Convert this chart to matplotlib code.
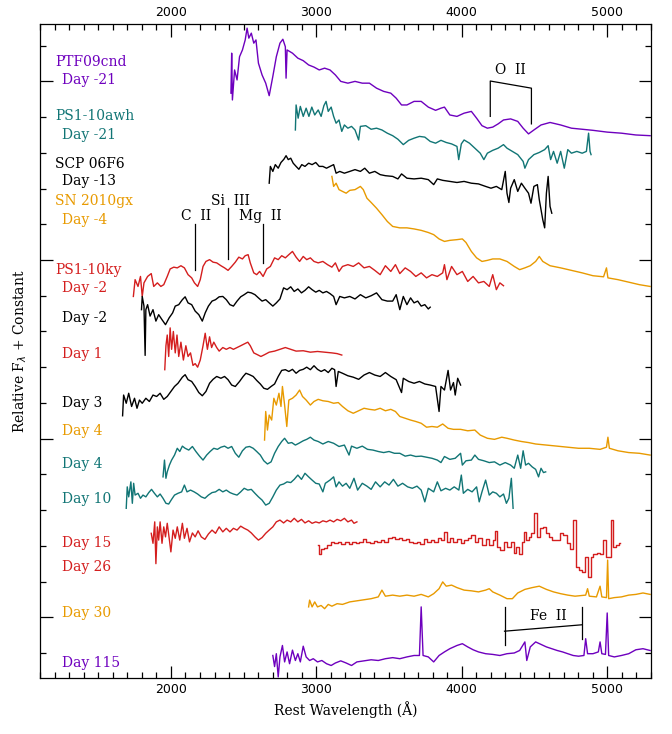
import numpy as np
import matplotlib
matplotlib.use('Agg')
import matplotlib.pyplot as plt
from matplotlib.ticker import MultipleLocator

# colores
purple = '#6E00BE'
teal = '#117575'
orange = '#E89A00'
red = '#D41E1E'
black = 'black'

# PTF09cnd Day -21
ptf_w = [2413, 2418, 2423, 2438, 2455, 2472, 2492, 2511, 2524, 2536, 2553, 2570, 2585, 2602, 2627, 2652, 2676,
         2701, 2725, 2750, 2770, 2787, 2792, 2799, 2836, 2873, 2910, 2947, 2984, 3020, 3057, 3094, 3131, 3168,
         3217, 3266, 3316, 3365, 3414, 3463, 3512, 3549, 3586, 3623, 3672, 3721, 3770, 3820, 3857, 3881, 3918,
         3967, 4016, 4066, 4102, 4139, 4176, 4213, 4250, 4287, 4336, 4385, 4422, 4459, 4496, 4545, 4607, 4680,
         4754, 4828, 4902, 5000, 5098, 5197, 5295]
ptf_f = [14.67, 15.79, 14.48, 15.32, 15.04, 15.69, 15.88, 16.16, 16.49, 16.21, 16.35, 16.07, 16.16, 15.51, 15.18,
         14.95, 14.60, 15.14, 15.69, 16.07, 16.18, 15.97, 15.09, 15.88, 15.79, 15.65, 15.58, 15.46, 15.40, 15.32,
         15.37, 15.32, 15.18, 15.00, 14.95, 15.00, 14.95, 14.95, 14.81, 14.72, 14.67, 14.53, 14.34, 14.34, 14.44,
         14.44, 14.28, 14.19, 14.25, 14.28, 14.06, 14.02, 14.11, 14.16, 13.97, 13.76, 13.69, 13.72, 13.81, 13.92,
         13.95, 13.88, 13.69, 13.53, 13.64, 13.78, 13.85, 13.78, 13.69, 13.66, 13.63, 13.58, 13.55, 13.50, 13.48]

# PS1-10awh Day -21
awh_w = [2856, 2861, 2875, 2890, 2910, 2930, 2949, 2969, 2989, 3013, 3033, 3052, 3067, 3082, 3102, 3119, 3136,
         3156, 3175, 3193, 3217, 3242, 3266, 3291, 3303, 3340, 3377, 3414, 3451, 3488, 3525, 3561, 3598, 3635,
         3672, 3709, 3746, 3783, 3820, 3857, 3893, 3930, 3967, 3979, 3997, 4016, 4053, 4090, 4127, 4152, 4176,
         4213, 4250, 4287, 4311, 4348, 4385, 4422, 4434, 4459, 4496, 4533, 4570, 4594, 4611, 4631, 4656, 4680,
         4705, 4729, 4754, 4791, 4828, 4857, 4872, 4882, 4889]
awh_f = [13.64, 14.34, 13.97, 14.30, 14.02, 14.25, 14.02, 14.28, 14.06, 14.20, 14.02, 14.32, 14.44, 14.16, 14.28,
         14.02, 13.83, 13.92, 13.60, 13.78, 13.69, 13.74, 13.64, 13.36, 13.74, 13.76, 13.66, 13.69, 13.64, 13.55,
         13.48, 13.38, 13.23, 13.35, 13.41, 13.46, 13.44, 13.32, 13.27, 13.35, 13.29, 13.25, 13.18, 12.81, 13.25,
         13.36, 13.27, 13.13, 12.99, 12.81, 12.99, 13.07, 13.13, 13.23, 13.13, 13.04, 12.95, 12.76, 12.57, 12.81,
         12.95, 13.01, 13.09, 13.20, 12.81, 13.04, 12.71, 13.04, 12.57, 13.09, 12.99, 13.04, 12.99, 13.04, 13.55,
         13.04, 12.95]

# SCP 06F6 Day -13
scp_w = [2676, 2684, 2701, 2718, 2738, 2757, 2777, 2792, 2807, 2824, 2841, 2861, 2880, 2900, 2922, 2947, 2971,
         2996, 3020, 3045, 3070, 3094, 3119, 3136, 3161, 3193, 3230, 3266, 3303, 3333, 3365, 3402, 3439, 3475,
         3525, 3561, 3586, 3623, 3672, 3721, 3770, 3807, 3832, 3869, 3918, 3967, 4016, 4066, 4115, 4164, 4201,
         4238, 4275, 4299, 4311, 4324, 4336, 4361, 4385, 4410, 4434, 4459, 4476, 4496, 4520, 4533, 4557, 4570,
         4582, 4594, 4607, 4619]
scp_f = [12.15, 12.62, 12.48, 12.67, 12.57, 12.73, 12.82, 12.92, 12.81, 12.85, 12.71, 12.62, 12.54, 12.67, 12.62,
         12.71, 12.67, 12.73, 12.62, 12.62, 12.57, 12.62, 12.67, 12.43, 12.48, 12.43, 12.48, 12.53, 12.48, 12.57,
         12.43, 12.48, 12.39, 12.36, 12.34, 12.27, 12.41, 12.29, 12.27, 12.29, 12.25, 12.11, 12.27, 12.23, 12.20,
         12.17, 12.20, 12.15, 12.13, 12.06, 12.01, 12.06, 11.97, 12.48, 11.87, 11.61, 12.01, 12.25, 11.92, 12.15,
         12.01, 11.87, 11.59, 12.06, 12.11, 11.69, 11.13, 10.90, 11.87, 12.34, 11.50, 11.31]

# SN 2010gx Day -4
gx_w = [3107, 3119, 3136, 3156, 3180, 3205, 3230, 3266, 3303, 3323, 3348, 3377, 3414, 3451, 3488, 3525, 3574,
        3623, 3672, 3721, 3770, 3807, 3844, 3881, 3918, 3967, 4004, 4029, 4066, 4102, 4139, 4176, 4213, 4262,
        4311, 4361, 4398, 4434, 4471, 4508, 4533, 4557, 4607, 4680, 4754, 4828, 4902, 4975, 4995, 5005, 5074,
        5148, 5221, 5295]
gx_f = [12.34, 12.06, 12.15, 11.97, 11.92, 11.87, 11.95, 11.97, 12.06, 11.97, 11.73, 11.61, 11.45, 11.27, 11.08,
        10.94, 10.90, 10.90, 10.87, 10.83, 10.77, 10.71, 10.59, 10.52, 10.55, 10.57, 10.59, 10.49, 10.24, 10.06,
        9.96, 9.99, 10.03, 10.03, 9.96, 9.82, 9.73, 9.78, 9.84, 9.96, 10.10, 9.96, 9.84, 9.78, 9.71, 9.64, 9.56,
        9.53, 9.78, 9.50, 9.45, 9.38, 9.31, 9.26]

# PS1-10ky Day -2
ky_w = [1742, 1754, 1774, 1791, 1803, 1815, 1840, 1865, 1882, 1907, 1931, 1951, 1975, 1995, 2020, 2044, 2069,
        2093, 2118, 2143, 2162, 2184, 2202, 2221, 2241, 2266, 2290, 2315, 2344, 2369, 2393, 2418, 2443, 2467,
        2492, 2511, 2531, 2546, 2570, 2590, 2610, 2634, 2659, 2684, 2713, 2738, 2762, 2787, 2811, 2836, 2861,
        2885, 2910, 2934, 2959, 2984, 3013, 3045, 3077, 3107, 3131, 3156, 3180, 3217, 3254, 3291, 3328, 3365,
        3402, 3439, 3475, 3512, 3544, 3574, 3611, 3648, 3684, 3721, 3758, 3795, 3832, 3869, 3881, 3898, 3930,
        3967, 4004, 4041, 4078, 4115, 4152, 4189, 4213, 4238, 4262, 4287]
ky_f = [8.98, 9.45, 9.26, 9.54, 8.98, 9.36, 9.54, 9.62, 9.26, 9.36, 9.26, 9.31, 9.54, 9.75, 9.80, 9.78, 9.84,
        9.78, 9.59, 9.50, 9.36, 9.26, 9.45, 9.82, 9.96, 10.01, 9.94, 9.92, 9.84, 9.78, 9.71, 9.82, 9.94, 10.08,
        10.03, 10.12, 10.15, 9.92, 9.64, 9.59, 9.68, 9.54, 9.75, 9.82, 10.06, 10.01, 10.12, 10.06, 10.15, 10.24,
        10.08, 9.96, 10.10, 10.01, 10.06, 9.96, 9.92, 9.96, 9.87, 9.80, 9.92, 9.68, 9.82, 9.87, 9.82, 9.92, 9.78,
        9.82, 9.71, 9.59, 9.84, 9.68, 9.87, 9.62, 9.78, 9.68, 9.54, 9.64, 9.50, 9.59, 9.54, 9.64, 9.87, 9.45,
        9.82, 9.59, 9.68, 9.40, 9.54, 9.36, 9.40, 9.26, 9.59, 9.17, 9.36, 9.28]

# Day -2 (negro)
dm2_w = [1798, 1803, 1815, 1823, 1828, 1840, 1857, 1877, 1897, 1916, 1939, 1963, 1988, 2012, 2030, 2054, 2079,
         2098, 2118, 2143, 2167, 2192, 2216, 2236, 2258, 2283, 2307, 2332, 2357, 2381, 2406, 2430, 2455, 2480,
         2504, 2529, 2553, 2578, 2602, 2627, 2652, 2676, 2701, 2725, 2750, 2775, 2799, 2824, 2848, 2873, 2898,
         2922, 2947, 2971, 2996, 3020, 3045, 3070, 3094, 3119, 3136, 3161, 3193, 3230, 3266, 3303, 3340, 3377,
         3414, 3451, 3488, 3525, 3549, 3574, 3598, 3623, 3648, 3672, 3697, 3721, 3746, 3770, 3783]
dm2_f = [8.61, 8.98, 8.71, 7.33, 8.61, 8.75, 8.43, 8.61, 8.29, 8.47, 8.33, 8.19, 8.38, 8.52, 8.71, 8.75, 8.89,
         8.97, 8.80, 8.75, 8.57, 8.47, 8.29, 8.52, 8.71, 8.85, 8.89, 8.97, 8.98, 8.89, 8.75, 8.71, 8.85, 8.97,
         9.03, 9.10, 9.08, 9.03, 8.94, 8.85, 8.89, 8.80, 8.71, 8.80, 8.91, 9.22, 9.17, 9.25, 9.12, 9.19, 9.08,
         9.15, 9.25, 9.17, 9.10, 9.15, 9.08, 9.12, 9.06, 8.98, 8.75, 8.98, 8.94, 8.98, 8.91, 9.03, 8.94, 9.00,
         9.08, 8.89, 8.85, 8.85, 9.03, 8.61, 8.98, 8.75, 8.94, 8.80, 8.85, 8.71, 8.75, 8.63, 8.68]

# Day 1 (rojo)
d1_w = [1958, 1966, 1975, 1985, 1995, 2005, 2017, 2030, 2042, 2054, 2069, 2086, 2103, 2118, 2135, 2152, 2167,
        2184, 2202, 2221, 2236, 2251, 2266, 2280, 2295, 2315, 2332, 2357, 2381, 2406, 2430, 2455, 2480, 2504,
        2529, 2546, 2570, 2595, 2619, 2644, 2676, 2713, 2750, 2787, 2824, 2861, 2910, 2959, 3008, 3057, 3107,
        3143, 3175]
d1_f = [6.93, 7.60, 7.90, 7.30, 8.10, 7.50, 8.00, 7.40, 7.90, 7.30, 7.70, 7.20, 7.60, 7.30, 7.40, 7.05, 7.10,
        7.00, 7.20, 7.60, 7.95, 7.50, 7.85, 7.55, 7.70, 7.55, 7.45, 7.55, 7.50, 7.55, 7.50, 7.55, 7.60, 7.65,
        7.70, 7.60, 7.40, 7.35, 7.30, 7.35, 7.42, 7.45, 7.50, 7.55, 7.50, 7.45, 7.46, 7.42, 7.44, 7.42, 7.40,
        7.38, 7.34]

# Day 3 (negro)
d3_w = [1668, 1675, 1693, 1710, 1730, 1750, 1767, 1784, 1803, 1828, 1852, 1877, 1902, 1926, 1951, 1975, 2000,
        2025, 2049, 2079, 2098, 2118, 2143, 2167, 2192, 2216, 2241, 2266, 2290, 2315, 2344, 2369, 2393, 2418,
        2443, 2472, 2497, 2516, 2541, 2566, 2590, 2615, 2639, 2664, 2689, 2713, 2738, 2762, 2787, 2811, 2836,
        2861, 2885, 2910, 2934, 2959, 2984, 3008, 3033, 3057, 3082, 3107, 3126, 3136, 3151, 3180, 3217, 3254,
        3291, 3328, 3365, 3402, 3439, 3475, 3512, 3549, 3586, 3598, 3635, 3672, 3709, 3746, 3783, 3820, 3844,
        3857, 3881, 3906, 3923, 3943, 3955, 3972, 3992]
d3_f = [5.64, 6.22, 5.99, 6.27, 5.90, 6.13, 5.85, 6.08, 5.99, 6.13, 6.04, 6.22, 6.18, 6.27, 6.10, 6.18, 6.32,
        6.46, 6.55, 6.72, 6.79, 6.65, 6.60, 6.46, 6.29, 6.20, 6.32, 6.55, 6.66, 6.74, 6.69, 6.74, 6.65, 6.50,
        6.46, 6.60, 6.74, 6.83, 6.79, 6.74, 6.63, 6.53, 6.41, 6.38, 6.46, 6.53, 6.74, 6.91, 6.93, 6.88, 6.94,
        6.83, 6.91, 6.94, 7.00, 6.93, 7.04, 6.94, 6.88, 6.93, 6.85, 6.97, 6.93, 6.46, 6.88, 6.83, 6.76, 6.72,
        6.66, 6.78, 6.85, 6.78, 6.74, 6.85, 6.74, 6.65, 6.29, 6.69, 6.60, 6.55, 6.60, 6.53, 6.50, 6.46, 5.76,
        6.46, 6.36, 6.91, 6.36, 6.57, 6.22, 6.69, 6.50]

# Day 4 (naranja)
d4o_w = [2644, 2652, 2664, 2676, 2693, 2708, 2725, 2743, 2757, 2767, 2782, 2797, 2811, 2836, 2861, 2885, 2905,
         2930, 2959, 2984, 3013, 3045, 3082, 3119, 3151, 3180, 3217, 3254, 3291, 3328, 3365, 3402, 3439, 3475,
         3512, 3544, 3574, 3611, 3648, 3684, 3721, 3758, 3795, 3832, 3869, 3906, 3943, 3992, 4041, 4090, 4127,
         4176, 4225, 4275, 4311, 4361, 4410, 4459, 4508, 4582, 4656, 4729, 4803, 4877, 4951, 4995, 5005, 5015,
         5074, 5148, 5221, 5295]
d4o_f = [4.96, 5.76, 5.24, 5.66, 5.52, 6.13, 5.94, 6.27, 5.90, 6.46, 5.94, 5.34, 6.08, 6.13, 6.22, 6.36, 6.18,
         6.08, 5.94, 6.04, 6.10, 6.06, 6.04, 5.99, 6.01, 5.90, 5.78, 5.71, 5.78, 5.85, 5.82, 5.80, 5.85, 5.78,
         5.82, 5.76, 5.62, 5.57, 5.52, 5.48, 5.43, 5.32, 5.34, 5.32, 5.41, 5.29, 5.26, 5.26, 5.22, 5.24, 5.10,
         5.01, 4.98, 5.04, 5.01, 4.96, 4.92, 4.89, 4.85, 4.82, 4.79, 4.76, 4.73, 4.73, 4.70, 4.76, 5.04, 4.73,
         4.66, 4.61, 4.59, 4.54]

# Day 4 (verde azulado)
d4t_w = [1946, 1956, 1966, 1975, 1990, 2005, 2025, 2044, 2061, 2079, 2098, 2123, 2148, 2172, 2197, 2221, 2246,
         2270, 2295, 2320, 2344, 2369, 2393, 2418, 2443, 2467, 2492, 2516, 2541, 2566, 2590, 2615, 2639, 2664,
         2689, 2713, 2738, 2762, 2782, 2807, 2831, 2856, 2880, 2910, 2934, 2959, 2984, 3013, 3045, 3082, 3119,
         3156, 3193, 3225, 3242, 3279, 3316, 3352, 3389, 3426, 3463, 3500, 3537, 3574, 3611, 3648, 3684, 3721,
         3758, 3795, 3832, 3857, 3881, 3918, 3955, 3992, 4004, 4029, 4066, 4090, 4115, 4152, 4189, 4225, 4262,
         4299, 4336, 4361, 4385, 4405, 4422, 4439, 4459, 4484, 4508, 4528, 4545, 4562, 4577]
d4t_f = [3.93, 4.40, 3.89, 4.07, 4.26, 4.40, 4.54, 4.73, 4.64, 4.79, 4.73, 4.68, 4.78, 4.64, 4.51, 4.40, 4.54,
         4.64, 4.73, 4.70, 4.76, 4.79, 4.73, 4.78, 4.59, 4.48, 4.66, 4.76, 4.78, 4.73, 4.64, 4.54, 4.38, 4.29,
         4.35, 4.59, 4.78, 4.92, 5.01, 4.87, 4.89, 4.82, 4.87, 4.94, 4.98, 5.04, 4.96, 4.92, 4.85, 4.92, 4.87,
         4.78, 4.82, 4.54, 4.79, 4.73, 4.79, 4.70, 4.68, 4.64, 4.61, 4.64, 4.59, 4.59, 4.51, 4.54, 4.50, 4.51,
         4.48, 4.45, 4.40, 4.33, 4.50, 4.42, 4.45, 4.59, 4.26, 4.38, 4.40, 4.54, 4.42, 4.38, 4.33, 4.35, 4.26,
         4.33, 4.26, 4.17, 4.54, 4.17, 4.66, 4.26, 4.31, 4.21, 4.14, 3.93, 4.17, 4.05, 4.07]

# Day 10 (verde azulado)
d10_w = [1693, 1700, 1710, 1725, 1735, 1744, 1754, 1774, 1791, 1808, 1828, 1848, 1867, 1887, 1907, 1926, 1946,
         1966, 1985, 2005, 2025, 2049, 2074, 2093, 2111, 2135, 2160, 2184, 2209, 2234, 2258, 2283, 2307, 2332,
         2357, 2381, 2406, 2430, 2455, 2480, 2504, 2529, 2553, 2578, 2602, 2627, 2652, 2676, 2701, 2725, 2750,
         2775, 2799, 2824, 2848, 2873, 2898, 2922, 2947, 2971, 2996, 3020, 3045, 3062, 3094, 3119, 3136, 3156,
         3180, 3205, 3230, 3259, 3284, 3316, 3348, 3377, 3407, 3439, 3470, 3500, 3530, 3561, 3593, 3628, 3660,
         3692, 3721, 3746, 3770, 3807, 3832, 3857, 3889, 3918, 3948, 3980, 3997, 4011, 4041, 4071, 4102, 4120,
         4139, 4164, 4189, 4213, 4238, 4262, 4287, 4307, 4324, 4341, 4353]
d10_f = [3.05, 3.65, 3.37, 3.79, 3.19, 3.75, 3.42, 3.47, 3.33, 3.42, 3.37, 3.49, 3.58, 3.47, 3.37, 3.45, 3.33,
         3.19, 3.17, 3.30, 3.42, 3.47, 3.51, 3.70, 3.51, 3.56, 3.51, 3.45, 3.37, 3.33, 3.42, 3.49, 3.51, 3.58,
         3.51, 3.56, 3.49, 3.45, 3.42, 3.51, 3.61, 3.56, 3.58, 3.47, 3.37, 3.28, 3.14, 3.19, 3.37, 3.56, 3.70,
         3.73, 3.79, 3.77, 3.86, 3.98, 3.86, 4.03, 3.93, 3.84, 3.75, 3.73, 3.51, 3.75, 3.84, 3.93, 3.65, 3.79,
         3.67, 3.75, 3.61, 3.89, 3.56, 3.75, 3.67, 3.58, 3.79, 3.65, 3.79, 3.70, 3.86, 3.67, 3.75, 3.65, 3.61,
         3.67, 3.56, 3.23, 3.61, 3.51, 3.79, 3.54, 3.61, 3.56, 3.65, 3.56, 3.98, 3.47, 3.58, 3.51, 3.65, 3.23,
         3.51, 3.84, 3.42, 3.51, 3.47, 3.37, 3.45, 3.19, 3.33, 3.89, 3.05]

# Day 15 (rojo)
d15_w = [1865, 1877, 1889, 1897, 1907, 1916, 1926, 1939, 1951, 1963, 1975, 1990, 2000, 2015, 2030, 2044, 2061,
         2079, 2093, 2111, 2128, 2148, 2167, 2187, 2209, 2234, 2258, 2283, 2307, 2332, 2357, 2381, 2406, 2430,
         2455, 2480, 2504, 2529, 2553, 2578, 2602, 2627, 2652, 2676, 2701, 2725, 2750, 2775, 2799, 2824, 2848,
         2873, 2898, 2922, 2947, 2971, 2996, 3020, 3045, 3070, 3094, 3119, 3143, 3168, 3193, 3217, 3242, 3259,
         3279]
d15_f = [2.35, 2.07, 2.67, 1.50, 2.53, 2.16, 2.67, 2.07, 2.53, 2.25, 2.63, 2.16, 1.83, 2.44, 2.21, 2.53, 2.16,
         2.63, 2.21, 2.49, 2.11, 2.36, 2.25, 2.42, 2.25, 2.18, 2.33, 2.44, 2.35, 2.53, 2.39, 2.49, 2.39, 2.49,
         2.44, 2.55, 2.49, 2.44, 2.36, 2.25, 2.16, 2.23, 2.35, 2.44, 2.53, 2.67, 2.72, 2.64, 2.72, 2.67, 2.77,
         2.67, 2.74, 2.64, 2.70, 2.63, 2.67, 2.64, 2.70, 2.67, 2.72, 2.67, 2.74, 2.70, 2.77, 2.67, 2.72, 2.63,
         2.67]

# Day 26 (rojo, histograma)
d26_w = [3013, 3020, 3038, 3062, 3087, 3111, 3136, 3161, 3185, 3210, 3235, 3259, 3284, 3308, 3333, 3357, 3382,
         3407, 3431, 3456, 3480, 3505, 3530, 3554, 3579, 3603, 3628, 3652, 3677, 3702, 3726, 3751, 3776, 3800,
         3825, 3849, 3869, 3889, 3906, 3930, 3955, 3980, 4004, 4029, 4053, 4078, 4102, 4127, 4152, 4176, 4201,
         4225, 4238, 4250, 4275, 4299, 4324, 4348, 4366, 4385, 4405, 4422, 4434, 4454, 4471, 4488, 4508, 4528,
         4545, 4570, 4587, 4611, 4636, 4661, 4685, 4710, 4734, 4759, 4774, 4791, 4816, 4840, 4857, 4877, 4897,
         4914, 4939, 4963, 4980, 5000, 5020, 5029, 5049, 5069, 5088]
d26_f = [2.02, 1.78, 1.92, 1.95, 2.02, 2.11, 2.07, 2.11, 2.05, 2.11, 2.05, 2.10, 2.07, 2.12, 2.18, 2.11, 2.08,
         2.14, 2.10, 2.16, 2.11, 2.21, 2.25, 2.18, 2.23, 2.16, 2.18, 2.11, 2.08, 2.11, 2.05, 2.18, 2.11, 2.16,
         2.11, 2.23, 2.16, 2.39, 2.11, 2.21, 2.11, 2.18, 2.08, 2.16, 2.21, 2.30, 2.11, 2.21, 2.02, 2.18, 2.02,
         2.16, 2.42, 1.97, 1.88, 2.11, 1.97, 2.11, 1.80, 1.97, 1.78, 2.11, 2.39, 2.16, 2.25, 2.35, 2.91, 2.25,
         2.49, 2.53, 2.35, 2.25, 2.16, 2.16, 2.35, 2.30, 2.07, 1.92, 2.72, 1.41, 1.32, 1.27, 1.69, 1.13, 1.69,
         1.78, 1.80, 1.78, 2.16, 1.69, 1.69, 2.72, 1.97, 2.02, 2.07]

# Day 30 (naranja)
d30_w = [2947, 2954, 2971, 2989, 3008, 3033, 3057, 3082, 3107, 3143, 3180, 3230, 3279, 3328, 3377, 3426, 3451,
         3475, 3525, 3574, 3623, 3672, 3721, 3770, 3807, 3844, 3869, 3893, 3930, 3967, 4016, 4066, 4115, 4164,
         4189, 4213, 4262, 4311, 4348, 4385, 4434, 4484, 4533, 4582, 4631, 4680, 4729, 4779, 4852, 4865, 4877,
         4926, 4951, 4963, 4995, 5003, 5010, 5049, 5098, 5148, 5197, 5246, 5295]
d30_f = [0.29, 0.48, 0.29, 0.43, 0.29, 0.33, 0.24, 0.36, 0.31, 0.38, 0.36, 0.43, 0.46, 0.49, 0.52, 0.57, 0.76,
         0.59, 0.62, 0.59, 0.62, 0.59, 0.64, 0.57, 0.66, 0.80, 0.99, 0.87, 0.90, 0.83, 0.76, 0.74, 0.71, 0.76,
         0.80, 0.71, 0.62, 0.52, 0.52, 0.68, 0.78, 0.83, 0.87, 0.78, 0.71, 0.66, 0.62, 0.59, 0.62, 0.80, 0.59,
         0.57, 0.87, 0.57, 0.55, 1.60, 0.52, 0.55, 0.57, 0.62, 0.64, 0.68, 0.64]

# Day 115 (morado)
d115_w = [2701, 2713, 2725, 2738, 2750, 2767, 2782, 2799, 2816, 2836, 2856, 2873, 2890, 2910, 2930, 2954, 2979,
          3008, 3038, 3070, 3102, 3131, 3168, 3205, 3242, 3279, 3328, 3377, 3426, 3475, 3525, 3574, 3623, 3672,
          3709, 3721, 3734, 3770, 3807, 3844, 3881, 3918, 3967, 4004, 4041, 4078, 4115, 4164, 4213, 4262, 4311,
          4361, 4398, 4434, 4447, 4471, 4508, 4545, 4582, 4619, 4656, 4693, 4729, 4766, 4803, 4840, 4852, 4865,
          4902, 4939, 4951, 4963, 4988, 5000, 5010, 5049, 5098, 5148, 5197, 5246, 5295]
d115_f = [-1.07, -1.38, -1.02, -1.67, -1.11, -0.79, -1.25, -0.97, -1.30, -0.92, -1.21, -1.02, -1.25, -0.81, -1.11,
          -1.21, -1.16, -1.25, -1.21, -1.30, -1.35, -1.28, -1.22, -1.28, -1.35, -1.25, -1.22, -1.19, -1.21, -1.16,
          -1.13, -1.16, -1.11, -1.07, -1.07, 0.29, -1.07, -1.11, -1.25, -1.07, -0.97, -0.88, -0.79, -0.74, -0.83,
          -0.91, -0.97, -1.02, -1.04, -1.07, -1.02, -1.00, -0.93, -0.69, -1.21, -0.83, -0.69, -0.76, -0.83, -0.88,
          -0.93, -0.97, -1.02, -1.07, -1.09, -1.07, -0.60, -1.02, -1.02, -0.97, -0.69, -1.02, -1.04, 0.12, -1.07,
          -1.11, -1.07, -1.02, -0.91, -0.88, -0.93]

# etiquetas: (texto, color, y, sangria)
labels = [('PTF09cnd', purple, 15.53, 0), ('Day -21', purple, 15.03, 1),
          ('PS1-10awh', teal, 14.02, 0), ('Day -21', teal, 13.49, 1),
          ('SCP 06F6', black, 12.70, 0), ('Day -13', black, 12.20, 1),
          ('SN 2010gx', orange, 11.64, 0), ('Day -4', orange, 11.11, 1),
          ('PS1-10ky', red, 9.73, 0), ('Day -2', red, 9.23, 1),
          ('Day -2', black, 8.39, 1), ('Day 1', red, 7.38, 1),
          ('Day 3', black, 6.01, 1), ('Day 4', orange, 5.20, 1),
          ('Day 4', teal, 4.30, 1), ('Day 10', teal, 3.32, 1),
          ('Day 15', red, 2.09, 1), ('Day 26', red, 1.41, 1),
          ('Day 30', orange, 0.13, 1), ('Day 115', purple, -1.27, 1)]

spectra = [(ptf_w, ptf_f, purple), (awh_w, awh_f, teal), (scp_w, scp_f, black), (gx_w, gx_f, orange),
           (ky_w, ky_f, red), (dm2_w, dm2_f, black), (d1_w, d1_f, red), (d3_w, d3_f, black),
           (d4o_w, d4o_f, orange), (d4t_w, d4t_f, teal), (d10_w, d10_f, teal), (d15_w, d15_f, red),
           (d30_w, d30_f, orange), (d115_w, d115_f, purple)]

fig = plt.figure(figsize=(6.72, 7.34), dpi=100)
ax = fig.add_axes([0.0595, 0.0763, 0.909, 0.8907])

for w, f, c in spectra:
    ax.plot(w, f, color=c, lw=1.0)
ax.plot(d26_w, d26_f, color=red, lw=1.0, drawstyle='steps-mid')

serif = 'DejaVu Serif'
for txt, c, y, ind in labels:
    x = 1251 if ind else 1203
    ax.text(x, y, txt, color=c, fontsize=10, family=serif, ha='left', va='center')

# lineas
ax.plot([2167, 2167], [11.02, 9.73], color='k', lw=0.9)
ax.plot([2393, 2393], [11.45, 10.03], color='k', lw=0.9)
ax.plot([2634, 2634], [11.02, 9.92], color='k', lw=0.9)
ax.text(2172, 11.22, 'C  II', fontsize=10, family=serif, ha='center', va='center')
ax.text(2411, 11.64, 'Si  III', fontsize=10, family=serif, ha='center', va='center')
ax.text(2615, 11.22, 'Mg  II', fontsize=10, family=serif, ha='center', va='center')

ax.plot([4196, 4196, 4479, 4479], [14.02, 15.01, 14.81, 13.81], color='k', lw=0.9)
ax.text(4336, 15.32, 'O  II', fontsize=10, family=serif, ha='center', va='center')

ax.plot([4294, 4294], [0.29, -0.79], color='k', lw=0.9)
ax.plot([4828, 4828], [0.29, -0.60], color='k', lw=0.9)
ax.plot([4294, 4828], [-0.39, -0.21], color='k', lw=0.9)
ax.text(4594, 0.03, 'Fe  II', fontsize=10, family=serif, ha='center', va='center')

ax.set_xlim(1100, 5300)
ax.set_ylim(-1.7, 16.6)
ax.xaxis.set_major_locator(MultipleLocator(1000))
ax.xaxis.set_minor_locator(MultipleLocator(100))
ax.yaxis.set_major_locator(MultipleLocator(5))
ax.yaxis.set_minor_locator(MultipleLocator(1))
ax.tick_params(which='both', direction='in', top=True, right=True, labeltop=True,
               labelleft=False, labelsize=9, width=0.9)
ax.tick_params(which='major', length=9)
ax.tick_params(which='minor', length=4.5)
for s in ax.spines.values():
    s.set_linewidth(0.9)

ax.set_xlabel('Rest Wavelength (\u00c5)', family=serif, fontsize=10, labelpad=4)
ax.set_ylabel('Relative F$_\\lambda$ + Constant', family=serif, fontsize=10, labelpad=8)

fig.savefig('out.png', dpi=100)
